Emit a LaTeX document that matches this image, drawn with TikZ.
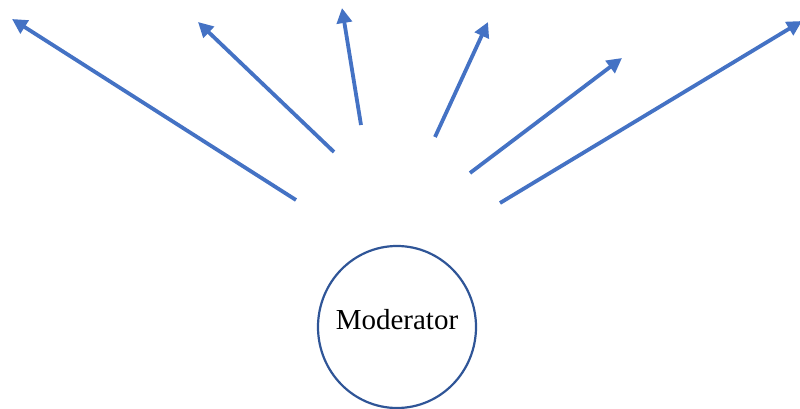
\documentclass[tikz,border=0pt]{standalone}
\usepackage{fontspec}
\setmainfont{Liberation Serif}
\usetikzlibrary{arrows.meta,shapes.geometric}
\definecolor{rayblue}{HTML}{4472C4}
\definecolor{ringblue}{HTML}{2F5597}
\begin{document}
\begin{tikzpicture}[x=1pt,y=-1pt,
  ray/.style={draw=rayblue,line width=3.8pt,-{Triangle[length=15pt,width=15pt]}},
  hub/.style={draw=ringblue,line width=2.2pt,ellipse,minimum width=158pt,minimum height=162pt,inner sep=0pt}]
\useasboundingbox (0,0) rectangle (800,409);
\node[hub,label={[font=\fontsize{29}{32}\selectfont,yshift=7pt]center:Moderator}] (mod) at (397,327) {};
% free ends of the rays
\coordinate (s1) at (296,200); \coordinate (e1) at (12,19);
\coordinate (s2) at (334,152); \coordinate (e2) at (198,22);
\coordinate (s3) at (361,125); \coordinate (e3) at (342,8);
\coordinate (s4) at (435,137); \coordinate (e4) at (488,22);
\coordinate (s5) at (470,173); \coordinate (e5) at (622,58);
\coordinate (s6) at (500,203); \coordinate (e6) at (802,21);
\foreach \i in {1,...,6} \draw[ray] (s\i) -- (e\i);
\end{tikzpicture}
\end{document}
